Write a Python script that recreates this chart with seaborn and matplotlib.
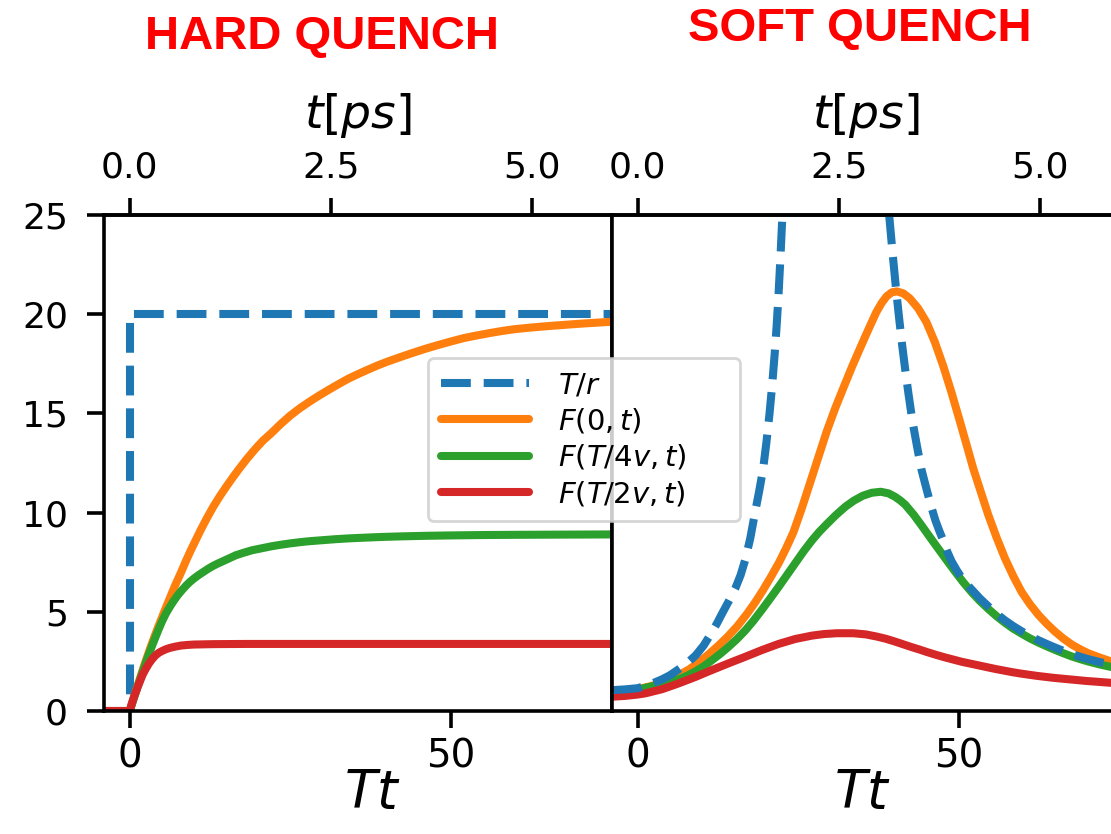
import numpy as np
import pandas as pd
import matplotlib
matplotlib.use("Agg")
import matplotlib.pyplot as plt
import seaborn as sns

# T in ps^-1 (bottom axis Tt, top axis t in ps)
T_PS = 12.5

# ---- hard quench ----
tr_hard_tt = [-4.0, 0.0, 0.0, 75.0]
tr_hard = [0.0, 0.0, 20.0, 20.0]

f0_hard_tt = [-4, 0, 0.5, 1, 1.5, 2, 2.5, 3, 3.75, 4.5, 5.4, 6.25, 7.1, 8, 8.75, 9.5, 10.25,
              11, 12, 13, 14, 15, 16, 17, 18.2, 19.5, 20.7, 22, 23.5, 25, 26.5, 28, 29.5, 31,
              32.5, 34, 35.5, 37, 38.5, 40, 42, 44, 46, 48, 50, 52, 54, 56, 58, 60, 62.5, 65,
              67.5, 70, 72.5, 75]
f0_hard = [0, 0, 0.53, 1.05, 1.55, 2.05, 2.53, 3.0, 3.67, 4.3, 5.03, 5.7, 6.36, 7.0, 7.57,
           8.1, 8.6, 9.1, 9.72, 10.3, 10.82, 11.3, 11.76, 12.2, 12.7, 13.2, 13.62, 14.0,
           14.47, 14.9, 15.27, 15.6, 15.91, 16.2, 16.48, 16.75, 16.98, 17.2, 17.41, 17.6,
           17.83, 18.05, 18.26, 18.45, 18.63, 18.8, 18.93, 19.05, 19.16, 19.25, 19.33, 19.4,
           19.46, 19.52, 19.57, 19.62]

f4_hard_tt = [-4, 0, 0.5, 1, 1.5, 2, 2.5, 3, 3.5, 4, 4.5, 5, 5.6, 6.25, 6.9, 7.5, 8.2, 8.85,
              9.4, 10, 10.75, 11.5, 12.25, 13, 13.75, 14.5, 15.5, 16.5, 17.75, 19, 20.5, 22,
              23.5, 25, 26.5, 28, 30, 32, 34, 36, 39, 42, 46, 50, 55, 60, 67, 75]
f4_hard = [0, 0, 0.5, 1.0, 1.49, 1.97, 2.43, 2.88, 3.31, 3.72, 4.12, 4.5, 4.9, 5.26, 5.58,
           5.85, 6.12, 6.35, 6.52, 6.68, 6.86, 7.02, 7.18, 7.32, 7.44, 7.55, 7.7, 7.85, 7.98,
           8.1, 8.2, 8.3, 8.38, 8.45, 8.51, 8.56, 8.61, 8.66, 8.7, 8.73, 8.77, 8.8, 8.83,
           8.85, 8.87, 8.88, 8.89, 8.9]

f2_hard_tt = [-4, 0, 0.25, 0.5, 0.75, 1, 1.25, 1.5, 1.75, 2, 2.5, 3, 3.5, 4, 4.5, 5, 5.6,
              6.25, 7, 8, 9, 10, 11.5, 13, 18, 30, 75]
f2_hard = [0, 0, 0.3, 0.55, 0.79, 1.0, 1.22, 1.42, 1.62, 1.82, 2.13, 2.4, 2.62, 2.8, 2.93,
           3.02, 3.11, 3.18, 3.24, 3.3, 3.33, 3.35, 3.36, 3.37, 3.38, 3.38, 3.38]

# ---- soft quench ----
tr_soft_tt = [-4, -2, 0, 2, 3.8, 5, 6.35, 7.7, 9, 10.25, 11.5, 12.3, 13.1, 14.1, 15.2, 16,
              16.7, 17.5, 18.3, 18.9, 19.5, 20, 20.5, 20.9, 21.3, 21.6, 21.9, 22.2, 22.5,
              22.9, 38.6, 39.1, 39.6, 40.1, 40.6, 41.1, 41.6, 42.1, 42.7, 43.4, 44.1, 44.9,
              45.6, 46.3, 46.9, 47.5, 48.1, 48.8, 49.6, 50.4, 51.2, 52, 53.2, 54.5, 55.8,
              57.1, 58.4, 59.7, 61, 62.3, 63.6, 64.9, 66.2, 67.5, 68.75, 70, 71.8, 73.6, 75]
tr_soft = [1.05, 1.09, 1.15, 1.35, 1.6, 1.8, 2.1, 2.42, 2.8, 3.3, 3.95, 4.4, 4.9, 5.5, 6.2,
           6.85, 7.6, 8.7, 10.1, 11.1, 12.2, 13.5, 15.0, 16.4, 18.0, 19.4, 21.0, 22.9, 25.0,
           28.0, 28.0, 25.0, 23.2, 21.5, 19.95, 18.5, 17.2, 16.0, 14.65, 13.4, 12.2, 11.2,
           10.35, 9.6, 9.08, 8.6, 8.06, 7.55, 7.1, 6.7, 6.38, 6.1, 5.68, 5.28, 4.9, 4.57,
           4.28, 4.02, 3.78, 3.57, 3.38, 3.2, 3.03, 2.87, 2.74, 2.62, 2.47, 2.34, 2.27]

f0_soft_tt = [-4, -2, 0, 2, 4, 6, 8, 9.5, 11, 12.5, 14, 15.5, 17, 18.25, 19.5, 20.75, 22,
              23.1, 24.2, 25.5, 26.8, 28.1, 29.4, 30.7, 32, 33.3, 34.6, 35.9, 37.1, 37.9,
              38.7, 39.5, 40.3, 41.3, 42.3, 43.6, 44.9, 46.2, 47.5, 48.8, 50.1, 51.2, 52.2,
              53.4, 54.5, 55.8, 57.1, 58.4, 59.7, 61, 62.3, 63.6, 64.9, 66.2, 67.5, 68.75,
              70, 71.8, 73.6, 75]
f0_soft = [1.0, 1.04, 1.1, 1.25, 1.45, 1.73, 2.1, 2.45, 2.85, 3.28, 3.75, 4.28, 4.9, 5.47,
           6.1, 6.78, 7.5, 8.22, 9.0, 10.2, 11.5, 12.8, 14.1, 15.25, 16.3, 17.33, 18.3,
           19.25, 20.1, 20.55, 20.9, 21.1, 21.15, 21.05, 20.8, 20.3, 19.6, 18.6, 17.4,
           16.05, 14.6, 13.35, 12.2, 11.0, 9.9, 8.75, 7.7, 6.8, 6.0, 5.38, 4.85, 4.4, 4.0,
           3.65, 3.35, 3.12, 2.92, 2.7, 2.5, 2.4]

f4_soft_tt = [-4, -2, 0, 3, 4.7, 6.35, 7.7, 9, 10.25, 11.5, 12.75, 14, 15.35, 16.7, 18,
              19.3, 20.6, 21.9, 23.2, 24.5, 25.8, 27.1, 28.2, 29.4, 30.8, 32.3, 33.6, 35,
              36.4, 37.8, 39, 40, 40.8, 41.6, 42.9, 44.15, 45.4, 46.7, 48, 49.3, 50.6, 51.9,
              53.2, 54.5, 55.8, 57.1, 58.4, 59.7, 61, 62.3, 63.6, 64.9, 66.2, 67.5, 68.75,
              70, 71.8, 73.6, 75]
f4_soft = [0.97, 1.02, 1.08, 1.3, 1.44, 1.6, 1.78, 2.0, 2.25, 2.55, 2.86, 3.2, 3.6, 4.05,
           4.55, 5.1, 5.67, 6.25, 6.85, 7.45, 8.05, 8.6, 9.02, 9.42, 9.87, 10.3, 10.6,
           10.85, 11.0, 11.05, 10.97, 10.8, 10.62, 10.4, 9.9, 9.35, 8.78, 8.2, 7.62, 7.05,
           6.5, 6.0, 5.55, 5.15, 4.78, 4.45, 4.15, 3.9, 3.66, 3.45, 3.26, 3.08, 2.91, 2.75,
           2.62, 2.5, 2.35, 2.22, 2.15]

f2_soft_tt = [-4, -2, 0, 1.2, 3.8, 6.35, 9, 11.5, 14.1, 16.7, 19.3, 21.9, 24.5, 27.1, 29,
              31, 33.5, 35.5, 37.2, 38.6, 40, 41.3, 42.6, 43.8, 45, 46.4, 47.8, 49.1, 50.4,
              51.7, 53, 54.3, 55.6, 56.9, 58.2, 59.5, 60.8, 62.1, 63.4, 64.7, 66, 67.3,
              68.6, 69.9, 71.2, 72.4, 73.6, 75]
f2_soft = [0.72, 0.76, 0.83, 0.89, 1.1, 1.39, 1.72, 2.06, 2.4, 2.73, 3.07, 3.38, 3.63, 3.8,
           3.88, 3.92, 3.92, 3.86, 3.75, 3.64, 3.5, 3.36, 3.22, 3.1, 2.97, 2.83, 2.7, 2.59,
           2.48, 2.39, 2.3, 2.21, 2.12, 2.04, 1.96, 1.89, 1.83, 1.77, 1.72, 1.67, 1.63,
           1.59, 1.55, 1.51, 1.48, 1.45, 1.42, 1.39]

labels = [r"$T/r$", r"$F(0,t)$", r"$F(T/4v,t)$", r"$F(T/2v,t)$"]
colors = ["#1f77b4", "#ff7f0e", "#2ca02c", "#d62728"]

sns.set_style("ticks")
plt.rcParams["font.family"] = ["DejaVu Sans"]
plt.rcParams["mathtext.fontset"] = "dejavusans"
for key in ["text.color", "axes.labelcolor", "xtick.color", "ytick.color", "axes.edgecolor"]:
    plt.rcParams[key] = "black"

LW = 5.8
TICK_KW = dict(length=12, width=2.6)

fig = plt.figure(figsize=(11.11, 8.34), dpi=100)
ax1 = fig.add_axes([104 / 1111, 123 / 834, 508 / 1111, 496 / 834])
ax2 = fig.add_axes([612 / 1111, 123 / 834, 508 / 1111, 496 / 834])

panels = [
    (ax1, [(tr_hard_tt, tr_hard), (f0_hard_tt, f0_hard), (f4_hard_tt, f4_hard), (f2_hard_tt, f2_hard)], 1.5, 0.528),
    (ax2, [(tr_soft_tt, tr_soft), (f0_soft_tt, f0_soft), (f4_soft_tt, f4_soft), (f2_soft_tt, f2_soft)], 2.5, 0.492),
]

for ax, series, tr_z, lab_x in panels:
    for i, (xs, ys) in enumerate(series):
        df = pd.DataFrame({"Tt": xs, "F": ys})
        sns.lineplot(data=df, x="Tt", y="F", ax=ax, color=colors[i], lw=LW,
                     linestyle="--" if i == 0 else "-", label=labels[i],
                     estimator=None, sort=False, zorder=tr_z if i == 0 else 2)
    ax.set_xlim(-4, 75)
    ax.set_ylim(0, 25)
    ax.set_xticks([0, 50])
    ax.set_xlabel(r"$Tt$", fontsize=38)
    ax.xaxis.set_label_coords(lab_x, -0.113)
    ax.set_ylabel("")
    ax.tick_params(axis="x", labelsize=28, pad=7, **TICK_KW)
    for s in ax.spines.values():
        s.set_linewidth(2.6)
    ax.get_legend().remove()

    top = ax.secondary_xaxis("top", functions=(lambda x: x / T_PS, lambda t: t * T_PS))
    top.set_xticks([0.0, 2.5, 5.0])
    top.set_xticklabels(["0.0", "2.5", "5.0"])
    top.tick_params(axis="x", labelsize=26, pad=10, **TICK_KW)
    top.set_xlabel(r"$t[ps]$", fontsize=34, labelpad=16)
    top.spines["top"].set_linewidth(2.6)

ax1.set_yticks([0, 5, 10, 15, 20, 25])
ax1.tick_params(axis="y", labelsize=26, pad=14, **TICK_KW)
ax2.set_yticks([])

handles = ax1.get_lines()[:4]
leg = fig.legend(handles, labels, loc="upper left",
                 bbox_to_anchor=(428 / 1111, 1 - 527 / 834, 312 / 1111, 169 / 834),
                 mode="expand", borderaxespad=0, fontsize=21, handlelength=3.0,
                 handletextpad=1.0, labelspacing=0.25, borderpad=0.45, framealpha=0.8,
                 edgecolor="#cccccc", fancybox=True)
leg.get_frame().set_linewidth(2.0)

fig.text(322 / 1111, 1 - 37 / 834, "HARD QUENCH", color="#ff0000", fontsize=34,
         fontweight="bold", family="Liberation Sans", ha="center", va="center")
fig.text(860 / 1111, 1 - 29 / 834, "SOFT QUENCH", color="#ff0000", fontsize=34,
         fontweight="bold", family="Liberation Sans", ha="center", va="center")

fig.savefig("out.png", dpi=100)
